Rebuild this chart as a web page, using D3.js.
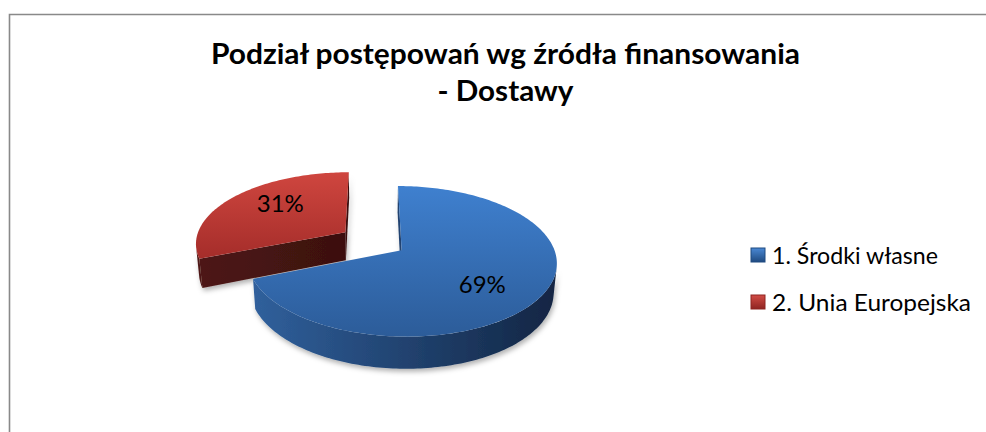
<!DOCTYPE html>
<html><head><meta charset="utf-8">
<script src="https://cdn.jsdelivr.net/npm/d3@7"></script>
<style>html,body{margin:0;padding:0;background:#fff;}svg{display:block;}</style>
</head><body>
<svg id="chart" width="986" height="432"></svg>
<script>
// ---- data ----
const titleLines = ["Podział postępowań wg źródła finansowania", "- Dostawy"];
const categories = ["1. Środki własne", "2. Unia Europejska"];
const values = [69, 31];
const valueLabels = ["69%", "31%"];

// ---- style ----
const topColors = [["#3f80cf", "#2c5c99"], ["#cf463f", "#a52d2a"]];
const sideColors = [["#30609c", "#122543"], ["#4e1715", "#3b100f"]];
const legendColors = [["#4a88d4", "#1f4a80"], ["#d24c45", "#8e2421"]];
const FONT = "Lato, 'Open Sans', sans-serif";

const svg = d3.select("#chart");
const defs = svg.append("defs");

// border
svg.append("path").attr("d", "M9.5,432 V14.5 H986").attr("fill", "none")
  .attr("stroke", "#898989").attr("stroke-width", 1.6);

// title
const titleW = [589, 136];
svg.selectAll("text.title").data(titleLines).join("text")
  .attr("class", "title").attr("x", 505.5).attr("y", (d, i) => 64 + i * 37)
  .attr("text-anchor", "middle").attr("font-family", FONT).attr("font-weight", "bold")
  .attr("font-size", 28).attr("fill", "#000")
  .attr("textLength", (d, i) => titleW[i]).attr("lengthAdjust", "spacingAndGlyphs")
  .text(d => d);

// ---- 3D pie projection ----
const R = 150, H = 33, D = 911, explode = 34, cx0 = 373, cy0 = 241;
const sphi = 0.473, cphi = Math.sqrt(1 - sphi * sphi);
function proj(X, Y, Z) {
  const depth = Z * cphi - Y * sphi;
  const k = D / (D + depth);
  return [cx0 + X * k, cy0 - (Z * sphi + Y * cphi) * k];
}
const cam = [0, D * sphi, -D * cphi];

const pie = d3.pie().sort(null).value(d => d);
const arcs = pie(values).map((a, i) => {
  const mid = (a.startAngle + a.endAngle) / 2;
  return Object.assign(a, { i, mid, ex: explode * Math.sin(mid), ez: explode * Math.cos(mid) });
});

function rim(a, t, Y) { return proj(a.ex + R * Math.sin(t), Y, a.ez + R * Math.cos(t)); }
function arcPts(a, t0, t1, Y) {
  const n = Math.max(2, Math.ceil(Math.abs(t1 - t0) / 0.02));
  return d3.range(n + 1).map(j => rim(a, t0 + (t1 - t0) * j / n, Y));
}
const line = d3.line();

// shadow filter
const f = defs.append("filter").attr("id", "shadow").attr("x", "-20%").attr("y", "-20%")
  .attr("width", "140%").attr("height", "160%");
f.append("feDropShadow").attr("dx", 1.5).attr("dy", 3).attr("stdDeviation", 2.5)
  .attr("flood-color", "#000").attr("flood-opacity", 0.3);

// draw far slices first
const order = arcs.slice().sort((p, q) => q.ez - p.ez);
const gPie = svg.append("g");

order.forEach(a => {
  const g = gPie.append("g").attr("filter", "url(#shadow)");
  const topPts = [proj(a.ex, 0, a.ez)].concat(arcPts(a, a.startAngle, a.endAngle, 0));
  const botPts = arcPts(a, a.startAngle, a.endAngle, -H);
  const all = topPts.concat(botPts, [proj(a.ex, -H, a.ez)]);
  const xs = d3.extent(all, p => p[0]), ys = d3.extent(topPts, p => p[1]);

  const sg = defs.append("linearGradient").attr("id", "side" + a.i).attr("gradientUnits", "userSpaceOnUse")
    .attr("x1", xs[0]).attr("x2", xs[1]).attr("y1", 0).attr("y2", 0);
  sg.append("stop").attr("offset", 0).attr("stop-color", sideColors[a.i][0]);
  sg.append("stop").attr("offset", 1).attr("stop-color", sideColors[a.i][1]);
  const tg = defs.append("linearGradient").attr("id", "top" + a.i).attr("gradientUnits", "userSpaceOnUse")
    .attr("x1", 0).attr("x2", 0).attr("y1", ys[0]).attr("y2", ys[1]);
  tg.append("stop").attr("offset", 0).attr("stop-color", topColors[a.i][0]);
  tg.append("stop").attr("offset", 1).attr("stop-color", topColors[a.i][1]);

  // radial faces
  [[a.startAngle, a.startAngle - Math.PI / 2], [a.endAngle, a.endAngle + Math.PI / 2]].forEach(([t, psi]) => {
    const dot = (cam[0] - a.ex) * Math.sin(psi) + (cam[2] - a.ez) * Math.cos(psi);
    if (dot <= 0) return;
    const pts = [proj(a.ex, 0, a.ez), rim(a, t, 0), rim(a, t, -H), proj(a.ex, -H, a.ez)];
    g.append("path").attr("d", line(pts) + "Z").attr("fill", `url(#side${a.i})`);
  });

  // outer wall visible runs
  const step = 0.005;
  let runs = [], cur = null;
  for (let t = a.startAngle; t <= a.endAngle + 1e-9; t += step) {
    const tt = Math.min(t, a.endAngle);
    const vis = -a.ex * Math.sin(tt) - R - (D * cphi + a.ez) * Math.cos(tt) > 0;
    if (vis) { if (!cur) { cur = [tt, tt]; runs.push(cur); } else cur[1] = tt; }
    else cur = null;
  }
  runs.forEach(([t0, t1]) => {
    if (t1 - t0 < 1e-3) return;
    const pts = arcPts(a, t0, t1, 0).concat(arcPts(a, t1, t0, -H));
    g.append("path").attr("d", line(pts) + "Z").attr("fill", `url(#side${a.i})`);
  });

  // top face
  gPie.append("path").attr("d", line(topPts) + "Z").attr("fill", `url(#top${a.i})`);
});

// value labels (placed on the top face, slightly past the mid-angle)
const labelR = 0.65 * R, labelRot = 0.14;
function labelPos(a) {
  const t = a.mid + labelRot;
  return proj(a.ex + labelR * Math.sin(t), 0, a.ez + labelR * Math.cos(t));
}
svg.selectAll("text.val").data(arcs).join("text").attr("class", "val")
  .attr("x", a => labelPos(a)[0]).attr("y", a => labelPos(a)[1])
  .attr("dy", "0.35em").attr("text-anchor", "middle").attr("font-family", FONT)
  .attr("font-size", 24).attr("fill", "#000").text(a => valueLabels[a.i]);

// legend
const legW = [166, 199];
const lg = svg.selectAll("g.leg").data(categories).join("g").attr("class", "leg")
  .attr("transform", (d, i) => `translate(751,${248 + i * 47})`);
legendColors.forEach((c, i) => {
  const gr = defs.append("linearGradient").attr("id", "leg" + i).attr("x1", 0).attr("x2", 0).attr("y1", 0).attr("y2", 1);
  gr.append("stop").attr("offset", 0).attr("stop-color", c[0]);
  gr.append("stop").attr("offset", 1).attr("stop-color", c[1]);
});
lg.append("rect").attr("width", 14).attr("height", 14).attr("fill", (d, i) => `url(#leg${i})`)
  .attr("stroke", (d, i) => legendColors[i][1]).attr("stroke-width", 1);
lg.append("text").attr("x", 21).attr("y", 7).attr("dy", "0.36em").attr("font-family", FONT)
  .attr("font-size", 24).attr("fill", "#000")
  .attr("textLength", (d, i) => legW[i]).attr("lengthAdjust", "spacingAndGlyphs").text(d => d);
</script>
</body></html>
